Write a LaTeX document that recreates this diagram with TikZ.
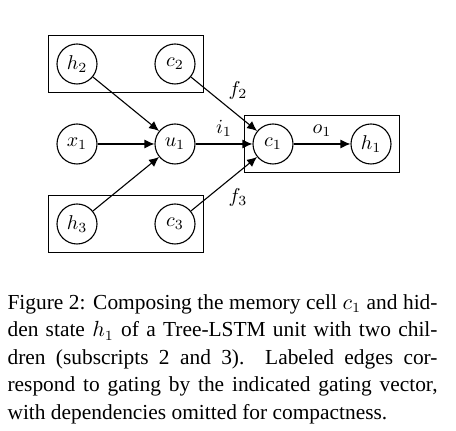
\documentclass[tikz,border=0pt]{standalone}
\usepackage{fontspec}
\setmainfont{Liberation Serif}
\usetikzlibrary{arrows.meta,fit}

\begin{document}
\begin{tikzpicture}[x=0.5pt,y=-0.5pt,->,>={Latex[length=5pt,width=4.5pt]},auto,node distance=49pt,
line width=0.55pt, main node/.style={circle,draw,minimum size=20pt,inner sep=0pt,font=\normalsize},
group box/.style={rectangle,draw,inner sep=4pt,line width=0.65pt}]
\useasboundingbox (0,0) rectangle (456,431);

% input row
  \node[main node] (x1) at (77,144) {$x_1$};
  \node[main node] (u1) [right of=x1] {$u_1$};
  \node[main node] (c1) [right of=u1] {$c_1$};
  \node[main node] (h1) [right of=c1] {$h_1$};

% first child
  \node[main node] (h2) [node distance=40pt,above of=x1] {$h_2$};
  \node[main node] (c2) [right of=h2] {$c_2$};

% second child
  \node[main node] (h3) [node distance=40pt,below of=x1] {$h_3$};
  \node[main node] (c3) [right of=h3] {$c_3$};

% boxes round the children and the cell
  \node[group box,fit=(h2)(c2)] (top) {};
  \node[group box,fit=(h3)(c3)] (bottom) {};
  \node[group box,fit=(c1)(h1)] (cell) {};

  \path[every node/.style={font=\normalsize}]
    (x1) edge  (u1)
    (h2) edge  (u1)
    (h3) edge  (u1)
    (u1) edge node {$i_1$} (c1)
    (c2) edge node [above right,inner sep=2pt] {$f_2$} (c1)
    (c3) edge node [below right,inner sep=2pt] {$f_3$} (c1)
    (c1) edge node {$o_1$} (h1);

% caption
\node[anchor=north west,inner sep=0pt,text width=215pt,align=justify,
  font=\fontsize{10.7}{13.75}\selectfont] (caption) at (7,294)
  {Figure 2: Composing the memory cell $c_1$ and hid-\linebreak
   den state $h_1$ of a Tree-LSTM unit with two chil-\linebreak
   dren (subscripts 2 and 3).\ \ Labeled edges cor-\linebreak
   respond to gating by the indicated gating vector,\linebreak
   with dependencies omitted for compactness.};

\end{tikzpicture}
\end{document}
